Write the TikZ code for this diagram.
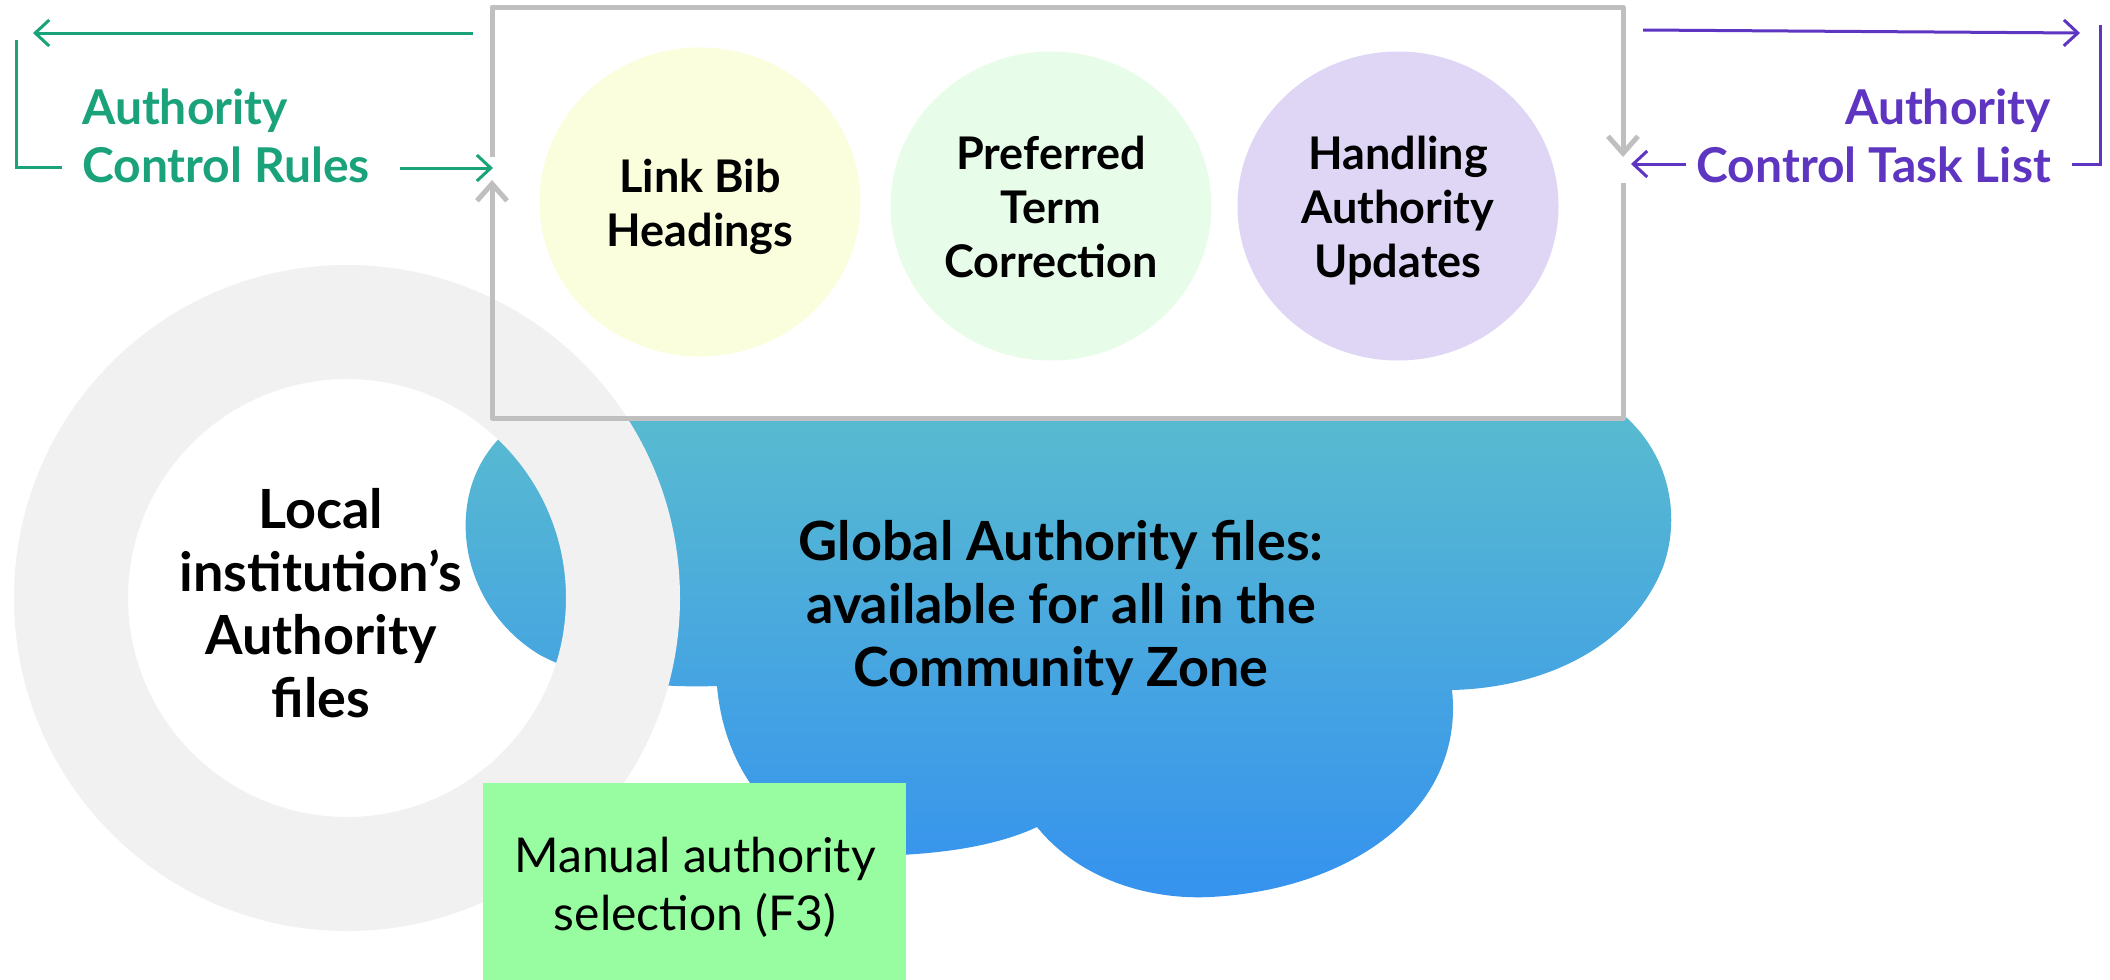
\documentclass[tikz,border=0pt]{standalone}
\usepackage{fontspec}
\setmainfont{Lato}
\usetikzlibrary{arrows.meta,shapes.geometric}
\definecolor{acgreen}{RGB}{26,163,122}
\definecolor{acpurple}{RGB}{93,53,193}
\definecolor{framegray}{RGB}{191,191,191}
\definecolor{ringgray}{RGB}{241,241,241}
\definecolor{ellyellow}{RGB}{250,254,220}
\definecolor{ellgreen}{RGB}{232,253,233}
\definecolor{ellpurple}{RGB}{222,214,244}
\definecolor{boxgreen}{RGB}{152,253,160}
\definecolor{cloudtop}{RGB}{90,188,207}
\definecolor{cloudbot}{RGB}{53,146,239}
\begin{document}
\begin{tikzpicture}[x=1pt,y=-1pt,
  frameline/.style={draw=framegray,line width=5pt,line join=round},
  frametip/.style={-{Straight Barb[length=17pt,width=30pt]}},
  gline/.style={draw=acgreen,line width=3pt},
  pline/.style={draw=acpurple,line width=3pt},
  thintip/.style={-{Straight Barb[length=14pt,width=26pt]}},
  sidelbl/.style={inner sep=0pt,font=\fontsize{48pt}{58pt}\selectfont\bfseries},
  elltext/.style={inner sep=0pt,align=center,anchor=base,font=\fontsize{45pt}{54pt}\selectfont\bfseries},
  bigtext/.style={inner sep=0pt,align=center,anchor=base,font=\fontsize{54pt}{63pt}\selectfont\bfseries},
  ellnode/.style={ellipse,draw=none,minimum width=321pt,minimum height=309pt,inner sep=0pt}
]
\useasboundingbox (0,0) rectangle (2110,980);
\fill[white] (0,0) rectangle (2110,980);
% cloud
\shade[top color=cloudtop,bottom color=cloudbot]
  (560,400) .. controls (505,420) and (470,460) .. (466,515)
  .. controls (462,570) and (490,625) .. (540,655)
  .. controls (590,682) and (660,688) .. (717,686)
  .. controls (725,780) and (790,860) .. (900,855)
  .. controls (960,852) and (1005,842) .. (1037,827)
  .. controls (1080,880) and (1150,900) .. (1210,897)
  .. controls (1350,890) and (1465,810) .. (1452,690)
  .. controls (1540,688) and (1630,650) .. (1663,567)
  .. controls (1680,520) and (1672,460) .. (1627,418)
  -- (1600,400) -- cycle;
% white panel
\fill[white] (492,7) rectangle (1623,418);
% ring
\fill[ringgray,even odd rule] (347,598) circle[radius=333] (347,598) circle[radius=219];
% frame with flow arrows
\coordinate (tl) at (492,7);
\coordinate (tr) at (1623,7);
\coordinate (br) at (1623,418);
\coordinate (bl) at (492,418);
\coordinate (lgapt) at (492,157);
\coordinate (lgapb) at (492,180);
\coordinate (rgapt) at (1623,157);
\coordinate (rgapb) at (1623,183);
\draw[frameline,frametip] (lgapt) -- (tl) -- (tr) -- (rgapt);
\draw[frameline,frametip] (rgapb) -- (br) -- (bl) -- (lgapb);
% ellipses
\node[ellnode,fill=ellyellow] (e1) at (700,202) {};
\node[ellnode,fill=ellgreen] (e2) at (1051,206) {};
\node[ellnode,fill=ellpurple] (e3) at (1398,206) {};
\node[elltext] (t1) at (700,246) {Link Bib\\Headings};
\node[elltext] (t2) at (1051,277) {Preferred\\Term\\Correction};
\node[elltext] (t3) at (1398,277) {Handling\\Authority\\Updates};
% texts
\node[bigtext] (glob) at (1061,686) {Global Authority files:\\available for all in the\\Community Zone};
\node[bigtext] (loc) at (321,717) {Local\\institution’s\\Authority\\files};
% manual box
\node[rectangle,fill=boxgreen,minimum width=423pt,minimum height=197pt,inner sep=0pt] (mbox) at (694.5,881.5) {};
\node[inner sep=0pt,align=center,anchor=base,font=\fontsize{48pt}{58pt}\selectfont] (mtext) at (695,930) {Manual authority\\selection (F3)};
% green rules
\node[sidelbl,text=acgreen,align=left,anchor=base west] (acr) at (82,182) {Authority\\Control Rules};
\coordinate (g1a) at (473,33);
\coordinate (g1b) at (33,33);
\coordinate (g2a) at (16,40);
\coordinate (g2b) at (62,167);
\coordinate (g3a) at (400,168);
\coordinate (g3b) at (493,168);
\draw[gline,thintip] (g1a) -- (g1b);
\draw[gline] (g2a) |- (g2b);
\draw[gline,thintip] (g3a) -- (g3b);
% purple task list
\node[sidelbl,text=acpurple,align=right,anchor=base east] (actl) at (2051,182) {Authority\\Control Task List};
\coordinate (p1a) at (1643,30);
\coordinate (p1b) at (2080,33);
\coordinate (p2a) at (2100,25);
\coordinate (p2b) at (2072,164);
\coordinate (p3a) at (1686,164);
\coordinate (p3b) at (1631,164);
\draw[pline,thintip] (p1a) -- (p1b);
\draw[pline] (p2a) |- (p2b);
\draw[pline,thintip] (p3a) -- (p3b);
\end{tikzpicture}
\end{document}
